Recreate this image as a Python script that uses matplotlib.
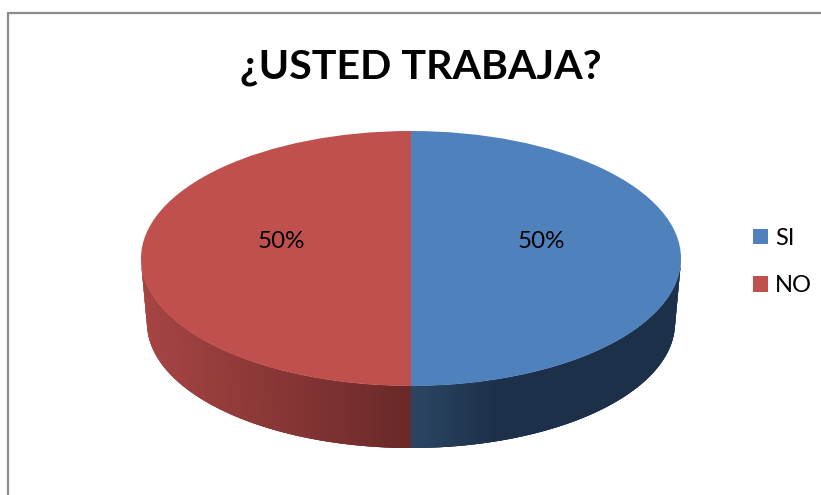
import numpy as np
import matplotlib
matplotlib.use("Agg")
import matplotlib.pyplot as plt
from matplotlib.patches import Wedge, Polygon, Patch
from matplotlib.transforms import Affine2D
from matplotlib.colors import to_rgb

title = "¿USTED TRABAJA?"
categories = ["SI", "NO"]
values = [50, 50]
top_colors = ["#4F81BD", "#C0504D"]
side_stops = [
    [(0.0, "#2B4766"), (0.32, "#1D3049"), (1.0, "#1D3049")],
    [(0.0, "#692828"), (1.0, "#A64543")],
]

W, H = 821, 495
cx, cy, a, b = 411.0, 258.5, 270.0, 127.5
cx2, cy2, a2, b2 = 411.0, 323.0, 264.0, 125.0

plt.rcParams["font.family"] = ["Lato", "DejaVu Sans"]
fig = plt.figure(figsize=(W / 100, H / 100), dpi=100, facecolor="white")
ax = fig.add_axes([0, 0, 1, 1])
ax.set_xlim(0, W)
ax.set_ylim(H, 0)
ax.axis("off")

# outer chart frame (runs off the right and bottom of the crop)
ax.plot([8, 8, W + 5], [H + 5, 13, 13], color="#8C8C8C", lw=1.6, solid_joinstyle="miter", zorder=1)


def lerp_color(stops, f):
    fs = [s[0] for s in stops]
    rgb = np.array([to_rgb(s[1]) for s in stops])
    return tuple(np.interp(f, fs, rgb[:, i]) for i in range(3))


fracs = np.array(values, dtype=float) / sum(values)
ends = 90 - 360 * np.cumsum(fracs)
starts = np.r_[90, ends[:-1]]
top_tf = Affine2D().scale(a, -b).translate(cx, cy) + ax.transData

for i, (s, e) in enumerate(zip(starts, ends)):
    # side wall: only the part on the front of the disc
    for shift in (0, -360, 360):
        l2, h2 = max(e + shift, -180), min(s + shift, 0)
        if h2 <= l2:
            continue
        grid = np.linspace(l2, h2, max(2, int((h2 - l2) / 0.75) + 1))
        # paint from the edge toward the centre line, each strip overlapping the next
        # one so that no antialiased seams show
        if abs(grid[0] + 90) < abs(grid[-1] + 90):
            grid = grid[::-1]
        for k in range(len(grid) - 1):
            t0 = grid[k]
            t1 = grid[min(k + 3, len(grid) - 1)]
            ts = np.radians(np.linspace(t0, t1, 5))
            upper = np.c_[cx + a * np.cos(ts), cy - b * np.sin(ts)]
            lower = np.c_[cx2 + a2 * np.cos(ts), cy2 - b2 * np.sin(ts)]
            pts = np.vstack([upper, lower[::-1]])
            f = abs(np.cos(np.radians(grid[k])))
            col = lerp_color(side_stops[i], f)
            ax.add_patch(Polygon(pts, closed=True, facecolor=col, edgecolor="none", zorder=2))

for i, (s, e) in enumerate(zip(starts, ends)):
    ax.add_patch(Wedge((0, 0), 1, e, s, facecolor=top_colors[i], edgecolor="none", transform=top_tf, zorder=3))
    mid = np.radians((s + e) / 2)
    ax.text(cx + 0.482 * a * np.cos(mid), cy - 18.5 + 1.5, f"{fracs[i] * 100:.0f}%",
            ha="center", va="center", fontsize=17.4, color="black", zorder=4)

ax.text(421, 67.5, title, ha="center", va="center", fontsize=29.6, fontweight="bold", color="black")

handles = [Patch(facecolor=c, edgecolor="none") for c in top_colors]
ax.legend(handles, categories, loc="center left", bbox_to_anchor=(753 / W, 1 - 262 / H),
          bbox_transform=fig.transFigure, frameon=False, fontsize=17,
          handlelength=0.64, handleheight=0.64, handletextpad=0.3, labelspacing=1.13,
          borderpad=0, borderaxespad=0)

fig.savefig("out.png", dpi=100)
